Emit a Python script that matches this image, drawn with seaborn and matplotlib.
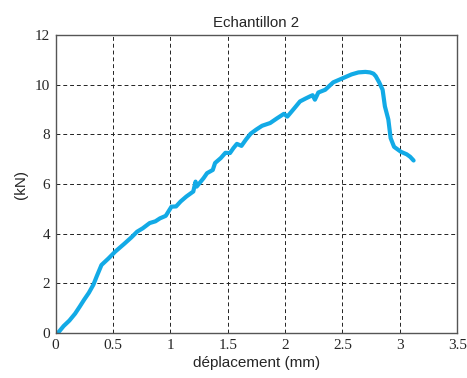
import matplotlib
matplotlib.use("Agg")
import matplotlib.pyplot as plt
import seaborn as sns
import pandas as pd

# Courbe force / déplacement
deplacement = [0.02, 0.07, 0.12, 0.17, 0.21, 0.25, 0.29, 0.33, 0.36, 0.40, 0.46,
               0.52, 0.60, 0.66, 0.71, 0.76, 0.82, 0.87, 0.91, 0.96, 1.01, 1.05,
               1.09, 1.14, 1.20, 1.22, 1.23, 1.29, 1.32, 1.37, 1.39, 1.44, 1.48,
               1.52, 1.55, 1.58, 1.62, 1.66, 1.70, 1.75, 1.80, 1.87, 1.93, 1.99,
               2.02, 2.08, 2.13, 2.18, 2.22, 2.24, 2.26, 2.29, 2.35, 2.42, 2.52,
               2.58, 2.64, 2.70, 2.74, 2.77, 2.79, 2.82, 2.85, 2.87, 2.90, 2.92,
               2.95, 3.01, 3.06, 3.09, 3.12]
force = [0.0, 0.28, 0.50, 0.78, 1.06, 1.35, 1.62, 1.95, 2.30, 2.74, 3.00,
         3.28, 3.60, 3.85, 4.08, 4.22, 4.43, 4.50, 4.62, 4.72, 5.09, 5.10,
         5.30, 5.50, 5.70, 6.10, 5.90, 6.24, 6.44, 6.57, 6.85, 7.05, 7.26,
         7.25, 7.45, 7.62, 7.54, 7.80, 8.03, 8.20, 8.35, 8.46, 8.65, 8.83,
         8.72, 9.05, 9.33, 9.45, 9.54, 9.58, 9.40, 9.69, 9.80, 10.10, 10.30,
         10.42, 10.50, 10.52, 10.50, 10.45, 10.35, 10.10, 9.80, 9.13, 8.60,
         7.85, 7.50, 7.30, 7.20, 7.10, 6.95]

df = pd.DataFrame({"deplacement": deplacement, "force": force})

sns.set_theme(style="white")
plt.rcParams["font.family"] = ["Liberation Sans", "DejaVu Sans"]

fig, ax = plt.subplots(figsize=(4.67, 3.78), dpi=100)
fig.subplots_adjust(left=0.119, right=0.979, bottom=0.119, top=0.907)

sns.lineplot(data=df, x="deplacement", y="force", sort=False, color="#12aae6",
             linewidth=3.0, ax=ax)

ax.set_xlim(0, 3.5)
ax.set_ylim(0, 12)
ax.set_xticks([0, 0.5, 1, 1.5, 2, 2.5, 3, 3.5])
ax.set_xticklabels(["0", "0.5", "1", "1.5", "2", "2.5", "3", "3.5"])
ax.set_yticks(range(0, 13, 2))

ax.grid(True, color="#222222", linestyle=(0, (4, 3)), linewidth=0.7)
ax.tick_params(direction="in", length=3, width=0.6, color="#444444",
               labelsize=11, pad=4)
for lab in ax.get_xticklabels() + ax.get_yticklabels():
    lab.set_fontfamily("Liberation Serif")

for s in ax.spines.values():
    s.set_color("#555555")
    s.set_linewidth(1.0)

ax.set_title("Echantillon 2", fontsize=10.8, pad=6)
ax.set_xlabel("déplacement (mm)", fontsize=11, labelpad=3)
ax.set_ylabel("(kN)", fontsize=11, labelpad=5)

fig.savefig("out.png", dpi=100)
